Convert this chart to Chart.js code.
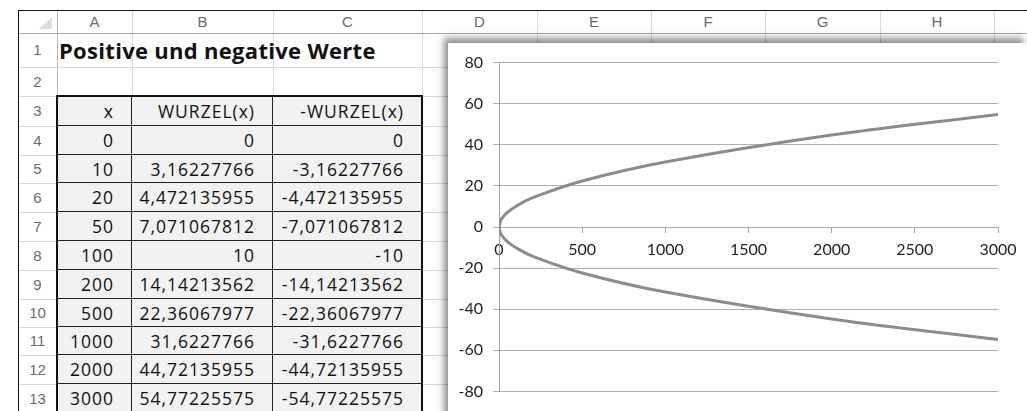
<!DOCTYPE html>
<html>
<head>
<meta charset="utf-8">
<script src="https://cdn.jsdelivr.net/npm/chart.js@4.4.0/dist/chart.umd.min.js"></script>
<style>
  html, body { margin: 0; padding: 0; }
  body { width: 1027px; height: 411px; overflow: hidden; position: relative; background: #fff; font-family: Lato, "Open Sans", sans-serif; }
  .abs { position: absolute; }
  .vline { position: absolute; width: 1px; background: #dadada; }
  .hline { position: absolute; height: 1px; background: #dadada; }
  .colhead { position: absolute; top: 10px; height: 23px; line-height: 23px; text-align: center; color: #6b6b6b; font-family: "Liberation Sans", sans-serif; font-size: 15px; }
  .rowhead { position: absolute; left: 18px; width: 39px; text-align: center; color: #6b6b6b; font-family: "Liberation Sans", sans-serif; font-size: 15px; }
  .cell { position: absolute; box-sizing: border-box; background: #f2f2f2; border-right: 1px solid #222; border-bottom: 1px solid #222; text-align: right; padding-right: 17px; font-family: "Open Sans", sans-serif; font-size: 17.5px; letter-spacing: 1px; color: #111; white-space: nowrap; }
  #title { position: absolute; left: 59px; top: 33px; height: 34px; line-height: 34px; font-family: "Open Sans", sans-serif; font-weight: bold; font-size: 22px; letter-spacing: 0.3px; color: #111; }
  #chartBox { position: absolute; left: 448px; top: 43px; width: 579px; height: 380px; background: #fff; box-shadow: -4px -5px 7px rgba(0,0,0,0.45); }
</style>
</head>
<body>
<div id="sheet"></div>
<div id="title">Positive und negative Werte</div>
<div id="chartBox"><canvas id="chart" width="579" height="368"></canvas></div>
<script>
// values of the worksheet (columns A, B, C)
const xValues = [0, 10, 20, 50, 100, 200, 500, 1000, 2000, 3000];
const rootValues = [0, 3.16227766, 4.472135955, 7.071067812, 10, 14.14213562, 22.36067977, 31.6227766, 44.72135955, 54.77225575];
const negRootValues = [0, -3.16227766, -4.472135955, -7.071067812, -10, -14.14213562, -22.36067977, -31.6227766, -44.72135955, -54.77225575];
const headers = ['x', 'WURZEL(x)', '-WURZEL(x)'];
const colLetters = ['A', 'B', 'C', 'D', 'E', 'F', 'G', 'H', 'I'];
const yTicks = [-80, -60, -40, -20, 0, 20, 40, 60, 80];
const xTicks = [0, 500, 1000, 1500, 2000, 2500, 3000];

// grid geometry
const colX = [57, 132, 273, 422, 537, 651, 765, 880, 994, 1109];
const rowY = [33, 67, 96, 126, 155, 183, 212, 241, 270, 299, 327, 355, 384, 413, 442];

const sheet = document.getElementById('sheet');
function add(cls, css, text) {
  const d = document.createElement('div');
  d.className = cls;
  Object.assign(d.style, css);
  if (text !== undefined) d.textContent = text;
  sheet.appendChild(d);
  return d;
}

// outer frame of the sheet
add('abs', { left: '18px', top: '10px', width: '1009px', height: '1px', background: '#111' });
add('abs', { left: '18px', top: '10px', width: '1px', height: '401px', background: '#111' });
// corner triangle
add('abs', { left: '39px', top: '17px', width: '0', height: '0', borderLeft: '13px solid transparent', borderBottom: '12px solid #dcdcdc' });

// gridlines
colX.forEach(function (x, i) {
  add('vline', { left: x + 'px', top: '11px', height: '400px', background: i === 0 ? '#b5b5b5' : '#dadada' });
});
rowY.forEach(function (y, i) {
  add('hline', { left: '19px', top: y + 'px', width: '1008px', background: i === 0 ? '#ababab' : '#dadada' });
});

// column letters and row numbers
colLetters.forEach(function (c, i) {
  add('colhead', { left: colX[i] + 'px', width: (colX[i + 1] - colX[i]) + 'px' }, c);
});
for (let r = 0; r < rowY.length - 1; r++) {
  add('rowhead', { top: rowY[r] + 'px', height: (rowY[r + 1] - rowY[r]) + 'px', lineHeight: (rowY[r + 1] - rowY[r]) + 'px' }, String(r + 1));
}

// table with the values
function fmt(v) { return String(v).replace('.', ','); }
const tableRows = [headers].concat(xValues.map(function (x, i) {
  return [fmt(x), fmt(rootValues[i]), fmt(negRootValues[i])];
}));
tableRows.forEach(function (row, r) {
  const top = rowY[r + 2], h = rowY[r + 3] - top;
  row.forEach(function (txt, c) {
    add('cell', { left: colX[c] + 'px', top: top + 'px', width: (colX[c + 1] - colX[c]) + 'px', height: h + 'px', lineHeight: h + 'px' }, txt);
  });
});
// heavier outline around the table
add('abs', { left: '56px', top: '95px', width: (colX[3] - 59) + 'px', height: (rowY[13] - 96 + 2) + 'px', border: '2px solid #111', borderBottom: 'none' });

// chart
const posPoints = xValues.map(function (x, i) { return { x: x, y: rootValues[i] }; });
const negPoints = xValues.map(function (x, i) { return { x: x, y: negRootValues[i] }; });

const lineStyle = { showLine: true, borderColor: '#8c8c8c', borderWidth: 3, pointRadius: 0, tension: 0.4, fill: false };
const tickFont = { family: 'Lato', size: 16 };

new Chart(document.getElementById('chart').getContext('2d'), {
  type: 'scatter',
  data: {
    datasets: [
      Object.assign({ label: 'WURZEL(x)', data: posPoints }, lineStyle),
      Object.assign({ label: '-WURZEL(x)', data: negPoints }, lineStyle)
    ]
  },
  options: {
    responsive: false,
    animation: false,
    devicePixelRatio: 1,
    layout: { padding: { left: 0, top: 18, right: 29, bottom: 12 } },
    plugins: { legend: { display: false }, tooltip: { enabled: false } },
    scales: {
      x: {
        type: 'linear',
        position: { y: 0 },
        min: xTicks[0],
        max: xTicks[xTicks.length - 1],
        afterBuildTicks: function (s) { s.ticks = xTicks.map(function (v) { return { value: v }; }); },
        ticks: { color: '#1f1f1f', font: tickFont, padding: 8, maxRotation: 0, callback: function (v) { return String(v); } },
        grid: { drawOnChartArea: false, color: '#a6a6a6', tickLength: 5 },
        border: { color: '#a6a6a6' }
      },
      y: {
        min: yTicks[0],
        max: yTicks[yTicks.length - 1],
        afterBuildTicks: function (s) { s.ticks = yTicks.map(function (v) { return { value: v }; }); },
        afterFit: function (s) { s.width = 51; },
        ticks: { color: '#1f1f1f', font: tickFont, padding: 10 },
        grid: { color: '#b0b0b0', tickLength: 6 },
        border: { color: '#a6a6a6' }
      }
    }
  }
});
</script>
</body>
</html>
